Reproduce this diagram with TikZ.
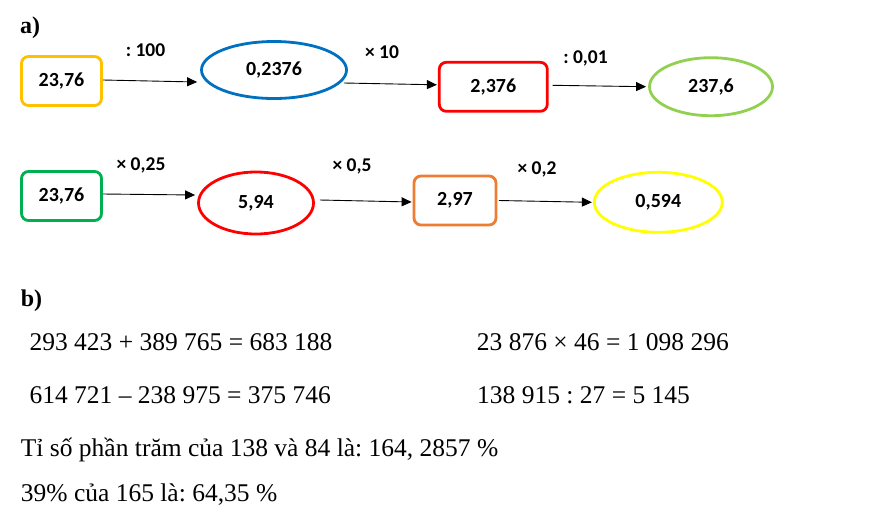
\documentclass[tikz,border=0pt]{standalone}
\usepackage{fontspec}
\setmainfont{Liberation Serif}
\newfontfamily\calibri{Carlito}
\usetikzlibrary{shapes.geometric,arrows.meta}
\definecolor{cyellow}{HTML}{FFC000}
\definecolor{cblue}{HTML}{0070C0}
\definecolor{cred}{HTML}{FF0000}
\definecolor{clgreen}{HTML}{92D050}
\definecolor{cgreen}{HTML}{00B050}
\definecolor{corange}{HTML}{ED7D31}
\definecolor{cyel}{HTML}{FFFF00}
\frenchspacing
\begin{document}
\begin{tikzpicture}[x=1pt,y=-1pt,
  rbox/.style={draw, line width=2.8pt, rounded corners=7pt, inner sep=0pt, minimum height=49pt, font=\calibri\bfseries\fontsize{20}{24}\selectfont},
  oval/.style={ellipse, draw, line width=2.8pt, inner sep=0pt, font=\calibri\bfseries\fontsize{20}{24}\selectfont},
  lbl/.style={anchor=base, inner sep=0pt, font=\calibri\bfseries\fontsize{19.5}{23}\selectfont},
  arr/.style={-{Triangle[length=10pt,width=9pt]}, line width=0.9pt},
  txt/.style={anchor=base west, inner sep=0pt, font=\fontsize{25.5}{29}\selectfont},
  head/.style={anchor=base west, inner sep=0pt, font=\bfseries\fontsize{24}{28}\selectfont}]
\useasboundingbox (0,0) rectangle (880,520);

\node[head] (ha) at (20,33) {a)};

% row 1
\node[rbox, draw=cyellow, minimum width=80pt] (y1) at (61.5,81) {23,76};
\node[oval, draw=cblue, minimum width=145pt, minimum height=57pt] (b1) at (274,70) {0,2376};
\node[rbox, draw=cred, minimum width=108pt] (r1) at (493.3,86.8) {2,376};
\node[oval, draw=clgreen, minimum width=123pt, minimum height=58pt] (g1) at (711,86.7) {237,6};

\node[lbl] (l1) at (145.5,56) {: 100};
\node[lbl] (l2) at (382,58.3) {× 10};
\node[lbl] (l3) at (585.5,63.3) {: 0,01};

\draw[arr] ([yshift=1pt]y1.east) -- ([xshift=-3pt,yshift=-12pt]b1.west);
\draw[arr] ([xshift=-4pt,yshift=-13pt]b1.east) -- ([xshift=-1pt,yshift=2pt]r1.west);
\draw[arr] ([xshift=4pt,yshift=1.5pt]r1.east) -- ([xshift=-2pt]g1.west);

% row 2
\node[rbox, draw=cgreen, minimum width=80pt] (g2) at (61.5,196) {23,76};
\node[oval, draw=cred, minimum width=115pt, minimum height=62pt] (r2) at (256,203) {5,94};
\node[rbox, draw=corange, minimum width=82pt] (o2) at (455,200.5) {2,97};
\node[oval, draw=cyel, minimum width=128pt, minimum height=60pt] (y2) at (658.3,202.3) {0,594};

\node[lbl] (l4) at (141,170) {× 0,25};
\node[lbl] (l5) at (352,171.7) {× 0,5};
\node[lbl] (l6) at (537,174.3) {× 0,2};

\draw[arr] ([yshift=2pt]g2.east) -- ([xshift=-2pt,yshift=8pt]r2.west);
\draw[arr] ([xshift=5pt,yshift=3pt]r2.east) -- ([xshift=-1pt,yshift=-1.5pt]o2.west);
\draw[arr] ([xshift=1.4pt]o2.east) -- ([xshift=-1pt]y2.west);

% part b
\node[head] (hb) at (20.7,306) {b)};
\node[txt] (t1) at (29.3,350.5) {293 423 + 389 765 = 683 188};
\node[txt] (t2) at (476.7,350.5) {23 876 × 46 = 1 098 296};
\node[txt] (t3) at (29.3,403) {614 721 – 238 975 = 375 746};
\node[txt] (t4) at (477,403) {138 915 : 27 = 5 145};
\node[txt] (t5) at (20.7,456) {Tỉ số phần trăm của 138 và 84 là: 164, 2857 \%};
\node[txt] (t6) at (20.7,501) {39\% của 165 là: 64,35 \%};
\end{tikzpicture}
\end{document}
